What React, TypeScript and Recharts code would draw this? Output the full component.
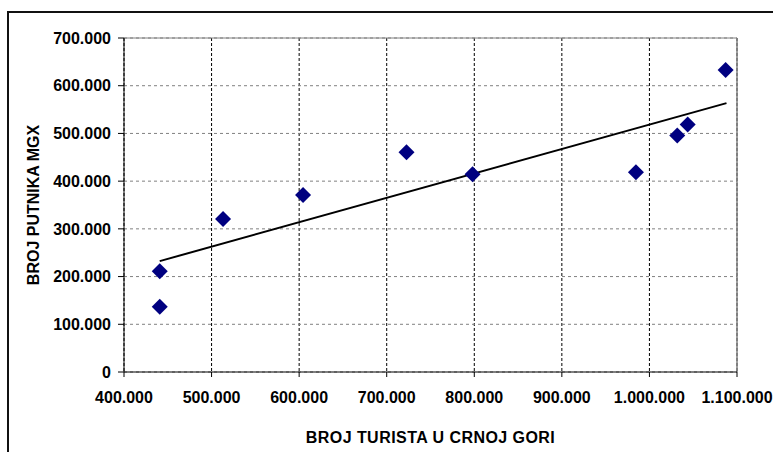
import React from 'react';
import { ScatterChart, Scatter, XAxis, YAxis, CartesianGrid, ReferenceLine } from 'recharts';

// broj turista (x) i broj putnika MGX (y)
const tourists = [440800, 440800, 513100, 604500, 722600, 798000, 984600, 1031800, 1043700, 1087000];
const passengers = [211400, 136500, 320600, 371000, 460600, 414400, 418600, 495500, 518600, 632800];

// krajevi linije trenda, očitani sa slike
const trendX = [440800, 1088000];
const trendY = [232400, 563500];

const xTicks = [400000, 500000, 600000, 700000, 800000, 900000, 1000000, 1100000];
const yTicks = [0, 100000, 200000, 300000, 400000, 500000, 600000, 700000];

const points = tourists.map((x, i) => ({ x, y: passengers[i] }));
const trend = trendX.map((x, i) => ({ x, y: trendY[i] }));

const font = '"Liberation Sans", Arial, sans-serif';
const fmt = (n: number) => String(n).replace(/\B(?=(\d{3})+(?!\d))/g, '.');
const tickStyle = { fill: '#000', fontSize: 16, fontWeight: 700, fontFamily: font };

const Diamond = (props: any) => {
  const { cx, cy } = props;
  const r = 8;
  return (
    <polygon
      points={`${cx},${cy - r} ${cx + r},${cy} ${cx},${cy + r} ${cx - r},${cy}`}
      fill="#000080"
    />
  );
};

export default function App() {
  return (
    <div style={{ position: 'absolute', left: 0, top: 0, width: 773, height: 452, overflow: 'hidden', background: '#fff' }}>
      <div style={{ position: 'absolute', left: 7, top: 11, width: 820, height: 520, border: '2px solid #111' }} />
      <div style={{ position: 'absolute', left: 0, top: 0 }}>
        <ScatterChart width={773} height={452} margin={{ top: 38, right: 36, left: 14, bottom: 0 }}>
          <CartesianGrid horizontal={false} stroke="#000" strokeDasharray="3 2" />
          <CartesianGrid vertical={false} stroke="#808080" strokeDasharray="3 3" />
          <XAxis
            type="number"
            dataKey="x"
            domain={[400000, 1100000]}
            ticks={xTicks}
            interval={0}
            tickFormatter={fmt}
            tick={tickStyle}
            tickSize={5}
            tickMargin={15}
            stroke="#000"
            height={80}
            label={{
              content: (p: any) => {
                const vb = p.viewBox;
                return (
                  <text
                    x={vb.x + vb.width / 2}
                    y={vb.y + 71}
                    textAnchor="middle"
                    style={{ fontSize: 16, fontWeight: 700, fontFamily: font, letterSpacing: 0.45 }}
                    fill="#000"
                  >
                    BROJ TURISTA U CRNOJ GORI
                  </text>
                );
              },
            }}
          />
          <YAxis
            type="number"
            dataKey="y"
            domain={[0, 700000]}
            ticks={yTicks}
            interval={0}
            tickFormatter={fmt}
            tick={tickStyle}
            tickSize={6}
            tickMargin={7}
            stroke="#000"
            width={110}
            label={{
              content: (p: any) => {
                const vb = p.viewBox;
                const cx = 39;
                const cy = vb.y + vb.height / 2;
                return (
                  <text
                    x={cx}
                    y={cy}
                    textAnchor="middle"
                    transform={`rotate(-90 ${cx} ${cy})`}
                    style={{ fontSize: 16, fontWeight: 700, fontFamily: font }}
                    fill="#000"
                  >
                    BROJ PUTNIKA MGX
                  </text>
                );
              },
            }}
          />
          <ReferenceLine x={1100000} stroke="#808080" strokeWidth={1.5} />
          <ReferenceLine y={700000} stroke="#808080" strokeWidth={1} />
          <Scatter
            data={trend}
            line={{ stroke: '#000', strokeWidth: 2 }}
            shape={() => <g />}
            isAnimationActive={false}
          />
          <Scatter data={points} shape={Diamond} isAnimationActive={false} />
        </ScatterChart>
      </div>
    </div>
  );
}
